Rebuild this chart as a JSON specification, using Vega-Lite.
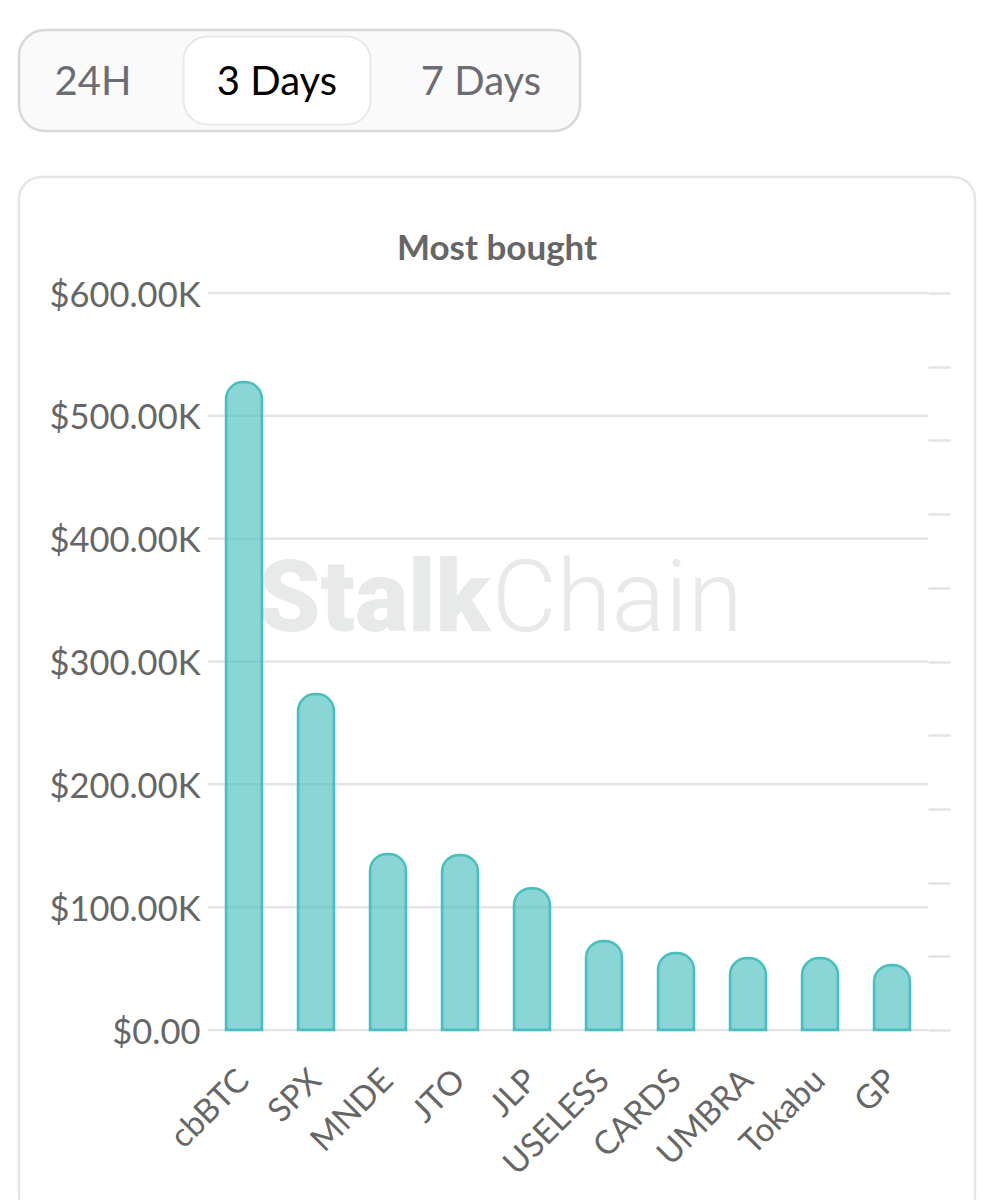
{
  "$schema": "https://vega.github.io/schema/vega-lite/v6.json",
  "padding": {"left": 17, "top": 28, "right": 0, "bottom": 0},
  "background": "white",
  "spacing": 42,
  "datasets": {
    "tabs": [{"tab": "24H"}, {"tab": "3 Days"}, {"tab": "7 Days"}],
    "bought": [
      {"token": "cbBTC", "volume": 527500},
      {"token": "SPX", "volume": 273500},
      {"token": "MNDE", "volume": 143300},
      {"token": "JTO", "volume": 142500},
      {"token": "JLP", "volume": 115500},
      {"token": "USELESS", "volume": 72500},
      {"token": "CARDS", "volume": 62700},
      {"token": "UMBRA", "volume": 58600},
      {"token": "Tokabu", "volume": 58600},
      {"token": "GP", "volume": 53000}
    ],
    "levels": [
      {"level": 0}, {"level": 100000}, {"level": 200000}, {"level": 300000},
      {"level": 400000}, {"level": 500000}, {"level": 600000}
    ]
  },
  "vconcat": [
    {
      "width": 561,
      "height": 101,
      "view": {"fill": "#fafafb", "stroke": "#d8d8dd", "strokeWidth": 2.5, "cornerRadius": 26},
      "data": {"name": "tabs"},
      "encoding": {
        "x": {"field": "tab", "type": "nominal", "axis": null, "scale": {"domain": ["24H", "3 Days", "7 Days"], "range": [-24, 540], "paddingInner": 0, "paddingOuter": 0}},
        "y": {"datum": "row", "type": "nominal", "axis": null}
      },
      "layer": [
        {
          "transform": [{"filter": "datum.tab === '3 Days'"}],
          "mark": {"type": "rect", "width": 187, "height": 88, "fill": "white", "stroke": "#e9e9ed", "strokeWidth": 2, "cornerRadius": 24}
        },
        {
          "transform": [{"filter": "datum.tab === '24H'"}],
          "mark": {"type": "text", "dx": 4, "dy": 2, "font": "Lato", "fontSize": 40, "color": "#6c6c73"},
          "encoding": {"text": {"field": "tab"}}
        },
        {
          "transform": [{"filter": "datum.tab === '3 Days'"}],
          "mark": {"type": "text", "dy": 2, "font": "Lato", "fontSize": 40, "color": "#000000"},
          "encoding": {"text": {"field": "tab"}}
        },
        {
          "transform": [{"filter": "datum.tab === '7 Days'"}],
          "mark": {"type": "text", "dx": 16, "dy": 2, "font": "Lato", "fontSize": 40, "color": "#6c6c73"},
          "encoding": {"text": {"field": "tab"}}
        }
      ]
    },
    {
      "width": 956,
      "height": 1043,
      "view": {"fill": "white", "stroke": "#e6e6e9", "strokeWidth": 2.5, "cornerRadius": 22},
      "title": {"text": "Most bought", "anchor": "middle", "offset": -90, "font": "Lato", "fontSize": 35, "fontWeight": 700, "color": "#666666"},
      "resolve": {"scale": {"x": "independent"}, "axis": {"y": "independent"}},
      "layer": [
        {
          "data": {"name": "levels"},
          "mark": {"type": "rule", "color": "#e5e5e7", "strokeWidth": 2.5},
          "encoding": {
            "x": {"datum": 0, "type": "quantitative", "axis": null, "scale": {"domain": [0, 1], "range": [189, 909]}},
            "x2": {"datum": 1},
            "y": {
              "field": "level",
              "type": "quantitative",
              "scale": {"domain": [-154681, 694437], "nice": false, "zero": false},
              "axis": {
                "orient": "left",
                "offset": -189,
                "title": null,
                "domain": false,
                "ticks": false,
                "grid": false,
                "values": [0, 100000, 200000, 300000, 400000, 500000, 600000],
                "labelExpr": "datum.value === 0 ? '$0.00' : '$' + format(datum.value / 1000, '.2f') + 'K'",
                "labelFont": "Lato",
                "labelFontSize": 34.5,
                "labelColor": "#666666",
                "labelPadding": 8,
                "labelOffset": 3
              }
            }
          }
        },
        {
          "data": {"values": [{"word": "Stalk"}]},
          "mark": {"type": "text", "align": "right", "baseline": "alphabetic", "font": "Roboto", "fontSize": 100, "fontWeight": 900, "color": "#e8e9e9"},
          "encoding": {
            "x": {"datum": 0.392, "type": "quantitative", "axis": null, "scale": {"domain": [0, 1], "range": [189, 909]}},
            "y": {"datum": 325000, "type": "quantitative", "axis": null},
            "text": {"field": "word"}
          }
        },
        {
          "data": {"values": [{"word": "Chain"}]},
          "mark": {"type": "text", "align": "left", "baseline": "alphabetic", "font": "Roboto", "fontSize": 100, "fontWeight": 300, "color": "#e8e9e9"},
          "encoding": {
            "x": {"datum": 0.394, "type": "quantitative", "axis": null, "scale": {"domain": [0, 1], "range": [189, 909]}},
            "y": {"datum": 325000, "type": "quantitative", "axis": null},
            "text": {"field": "word"}
          }
        },
        {
          "data": {"name": "bought"},
          "mark": {"type": "bar", "width": 36, "fill": "#4bc0c0", "fillOpacity": 0.65, "stroke": "#4bbfbf", "strokeWidth": 2.5, "cornerRadiusEnd": 17},
          "encoding": {
            "x": {
              "field": "token",
              "type": "nominal",
              "sort": null,
              "scale": {"range": [189, 909], "paddingInner": 0, "paddingOuter": 0},
              "axis": {
                "orient": "bottom",
                "offset": -190,
                "title": null,
                "domain": false,
                "ticks": false,
                "labelAngle": -45,
                "labelAlign": "right",
                "labelBaseline": "middle",
                "labelPadding": 45,
                "labelFont": "Lato",
                "labelFontSize": 33,
                "labelColor": "#666666"
              }
            },
            "y": {
              "field": "volume",
              "type": "quantitative",
              "axis": {
                "orient": "right",
                "offset": -47,
                "title": null,
                "domain": false,
                "grid": false,
                "labels": false,
                "tickSize": 22,
                "tickWidth": 2.5,
                "tickColor": "#e5e5e7",
                "values": [0, 60000, 120000, 180000, 240000, 300000, 360000, 420000, 480000, 540000, 600000]
              }
            }
          }
        }
      ]
    }
  ]
}
